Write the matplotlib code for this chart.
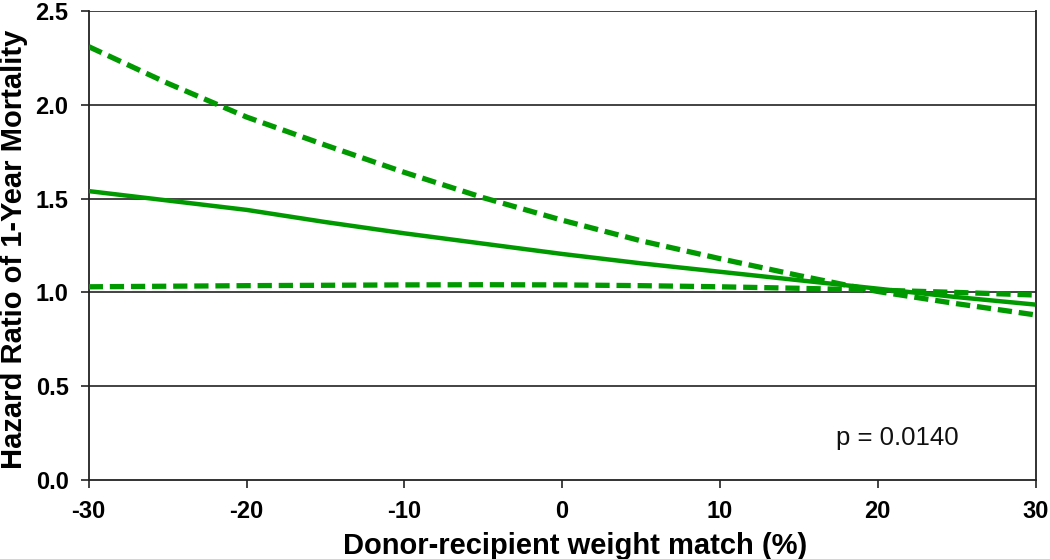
import matplotlib
matplotlib.use("Agg")
import matplotlib.pyplot as plt

plt.rcParams['font.family'] = ['Liberation Sans', 'DejaVu Sans']

weight_match = [-30, -25, -20, -15, -10, -5, 0, 5, 10, 15, 20, 25, 30]
hr_estimate = [1.54, 1.49, 1.44, 1.375, 1.315, 1.26, 1.205, 1.155, 1.11, 1.065, 1.02, 0.975, 0.935]
hr_upper = [2.31, 2.115, 1.935, 1.785, 1.64, 1.505, 1.385, 1.275, 1.18, 1.09, 1.005, 0.94, 0.88]
hr_lower = [1.03, 1.033, 1.036, 1.038, 1.04, 1.041, 1.04, 1.036, 1.03, 1.022, 1.012, 1.0, 0.986]
x_ticks = [-30, -20, -10, 0, 10, 20, 30]
y_ticks = [0.0, 0.5, 1.0, 1.5, 2.0, 2.5]
p_text = "p = 0.0140"

green = '#009a00'

fig = plt.figure(figsize=(10.5, 5.59), dpi=100)
ax = fig.add_axes([0.0845, 0.1413, 0.9017, 0.839])

for yv in y_ticks[1:]:
    ax.axhline(yv, color='#222222', lw=1.2, zorder=1)

ax.plot(weight_match, hr_estimate, color=green, lw=3.2, zorder=3, solid_capstyle='butt')
ax.plot(weight_match, hr_upper, color=green, lw=3.8, dashes=(2.7, 1.3), zorder=3)
ax.plot(weight_match, hr_lower, color=green, lw=3.8, dashes=(2.7, 1.3), zorder=3)

ax.set_xlim(-30, 30)
ax.set_ylim(0, 2.5)
ax.set_xticks(x_ticks)
ax.set_yticks(y_ticks)
ax.set_xticklabels([str(t) for t in x_ticks])
ax.set_yticklabels([f"{t:.1f}" for t in y_ticks])
ax.tick_params(axis='both', direction='out', length=5.5, width=1.2, color='#222222',
               labelsize=17, pad=9)
for lab in ax.get_xticklabels() + ax.get_yticklabels():
    lab.set_fontweight('bold')

for s in ax.spines.values():
    s.set_linewidth(1.3)
    s.set_color('#222222')
ax.spines['top'].set_visible(False)

ax.set_xlabel("Donor-recipient weight match (%)", fontsize=21, fontweight='bold')
ax.xaxis.label.set_verticalalignment('baseline')
ax.xaxis.set_label_coords(0.514, -0.158)
ax.set_ylabel("Hazard Ratio of 1-Year Mortality", fontsize=21, fontweight='bold')
ax.yaxis.set_label_coords(-0.064, 0.4925)

ax.text(17.36, 0.187, p_text, fontsize=18.5, ha='left', va='baseline', color='#111111')

fig.savefig("out.png", dpi=100)
